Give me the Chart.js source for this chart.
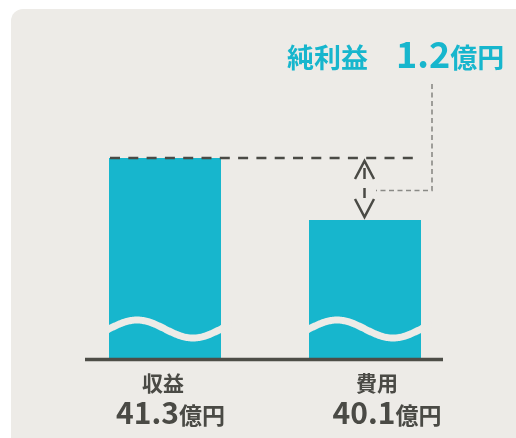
<!DOCTYPE html>
<html><head><meta charset="utf-8">
<script src="https://cdn.jsdelivr.net/npm/chart.js@4"></script>
<style>html,body{margin:0;padding:0;background:#fff;overflow:hidden}#wrap{width:516px;height:438px;}</style>
</head><body><div id="wrap"><canvas id="c" width="516" height="438"></canvas></div>
<script>
const categories = ['収益', '費用'];
const values = [41.3, 40.1];
const valueLabels = ['41.3', '40.1'];
const unitLabel = '億円';
const netTitle = '純利益';
const netValue = '1.2';
const axisMin = 37.43;
const axisMax = 44;

const CYAN = '#17b6cd';
const DARK = '#4a4a45';
const BG = '#edebe7';
const FONT = '"Noto Sans CJK JP", "Noto Sans", sans-serif';

function drawGroup(ctx, parts, x, baseline, align) {
  let total = 0;
  const widths = parts.map(p => { ctx.font = 'bold ' + p[1] + 'px ' + FONT; const w = ctx.measureText(p[0]).width; total += w; return w; });
  let cx = align === 'center' ? x - total / 2 : x;
  ctx.textAlign = 'left';
  ctx.textBaseline = 'alphabetic';
  parts.forEach((p, i) => { ctx.font = 'bold ' + p[1] + 'px ' + FONT; ctx.fillText(p[0], cx, baseline); cx += widths[i]; });
}

const decor = {
  id: 'decor',
  beforeDraw(chart) {
    const ctx = chart.ctx;
    ctx.save();
    ctx.fillStyle = '#ffffff';
    ctx.fillRect(0, 0, chart.width, chart.height);
    ctx.fillStyle = BG;
    ctx.beginPath();
    ctx.roundRect(11, 9, chart.width + 30, chart.height + 30, 12);
    ctx.fill();
    ctx.restore();
  },
  afterDatasetsDraw(chart) {
    const ctx = chart.ctx;
    const meta = chart.getDatasetMeta(0);
    const ys = chart.scales.y;
    const bottom = chart.chartArea.bottom;
    ctx.save();
    meta.data.forEach(bar => {
      const w = bar.width;
      const left = bar.x - w / 2;
      const yc = bottom - 29;
      ctx.beginPath();
      for (let px = left - 8; px <= left + w + 8; px += 1) {
        const y = yc - 9 * Math.sin(2 * Math.PI * (px - left) / w);
        if (px === left - 8) ctx.moveTo(px, y); else ctx.lineTo(px, y);
      }
      ctx.strokeStyle = BG;
      ctx.lineWidth = 7;
      ctx.lineCap = 'round';
      ctx.stroke();
    });
    ctx.beginPath();
    ctx.moveTo(85, bottom + 1.5);
    ctx.lineTo(443, bottom + 1.5);
    ctx.strokeStyle = '#4d4d47';
    ctx.lineWidth = 3.5;
    ctx.lineCap = 'butt';
    ctx.stroke();

    const b0 = meta.data[0], b1 = meta.data[1];
    const yTop = ys.getPixelForValue(values[0]);
    const yLow = ys.getPixelForValue(values[1]);
    ctx.beginPath();
    ctx.setLineDash([10, 8.3]);
    ctx.moveTo(b0.x - b0.width / 2 + 1, yTop);
    ctx.lineTo(b1.x + b1.width / 2 - 2, yTop);
    ctx.strokeStyle = DARK;
    ctx.lineWidth = 2.5;
    ctx.stroke();
    const ax = 364.5;
    ctx.setLineDash([]);
    ctx.lineWidth = 2.5;
    ctx.lineJoin = 'miter';
    ctx.beginPath();
    ctx.moveTo(355, yTop + 21); ctx.lineTo(ax, yTop + 3); ctx.lineTo(374, yTop + 21);
    ctx.stroke();
    ctx.beginPath();
    ctx.moveTo(355, yLow - 21); ctx.lineTo(ax, yLow - 3); ctx.lineTo(374, yLow - 21);
    ctx.stroke();
    ctx.beginPath();
    ctx.moveTo(ax, yTop + 10); ctx.lineTo(ax, yTop + 21);
    ctx.moveTo(ax, yTop + 30); ctx.lineTo(ax, yTop + 40);
    ctx.stroke();
    ctx.beginPath();
    ctx.setLineDash([5, 3.5]);
    ctx.moveTo(432, 84);
    ctx.lineTo(432, 190.5);
    ctx.lineTo(376, 190.5);
    ctx.strokeStyle = '#8a8a86';
    ctx.lineWidth = 1.6;
    ctx.stroke();
    ctx.setLineDash([]);

    ctx.fillStyle = CYAN;
    ctx.font = 'bold 27px ' + FONT;
    ctx.textAlign = 'left';
    ctx.textBaseline = 'alphabetic';
    ctx.fillText(netTitle, 287, 68);
    drawGroup(ctx, [[netValue, 36], [unitLabel, 27]], 396, 68, 'left');

    const offs = [[-2, 5.5], [12, 22]];
    ctx.fillStyle = DARK;
    meta.data.forEach((bar, i) => {
      ctx.font = 'bold 21px ' + FONT;
      ctx.textAlign = 'center';
      ctx.fillText(categories[i], bar.x + offs[i][0], 391);
      drawGroup(ctx, [[valueLabels[i], 30], [unitLabel, 23]], bar.x + offs[i][1], 424, 'center');
    });
    ctx.restore();
  }
};

new Chart(document.getElementById('c'), {
  type: 'bar',
  data: {
    labels: categories,
    datasets: [{ data: values, backgroundColor: CYAN, borderWidth: 0, barPercentage: 0.56, categoryPercentage: 1 }]
  },
  options: {
    responsive: false,
    devicePixelRatio: 1,
    animation: false,
    layout: { padding: { left: 65, right: 51, top: 18.5, bottom: 80 } },
    plugins: { legend: { display: false }, tooltip: { enabled: false }, title: { display: false } },
    scales: {
      x: { display: false },
      y: { display: false, min: axisMin, max: axisMax }
    }
  },
  plugins: [decor]
});
</script></body></html>
